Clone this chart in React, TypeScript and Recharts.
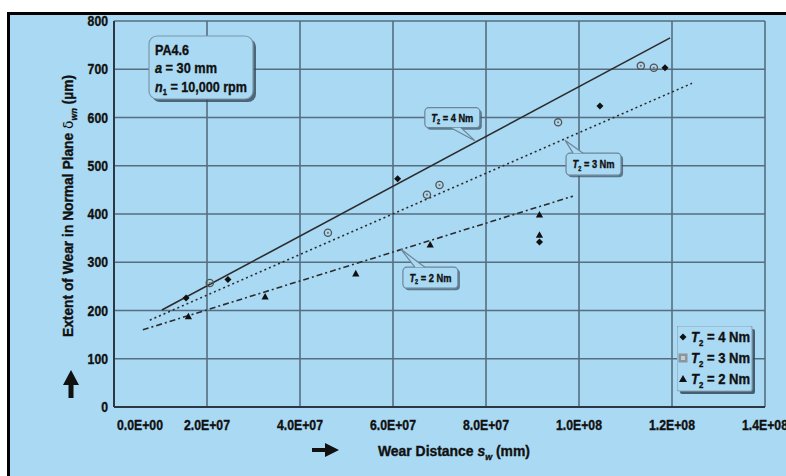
import React from 'react';
import { ComposedChart, Line, Scatter, XAxis, YAxis, CartesianGrid, Legend, ReferenceDot } from 'recharts';

// wear distance (mm) and wear depth (µm)
const t4Distance = [1.55e7, 2.45e7, 6.1e7, 1.045e8, 1.185e8, 9.15e7];
const t4Wear = [226, 264, 473, 624, 703, 342];
const t3Distance = [2.06e7, 4.6e7, 6.73e7, 7.0e7, 9.55e7, 1.133e8, 1.161e8];
const t3Wear = [257, 361, 440, 460, 590, 707, 703];
const t2Distance = [1.6e7, 3.25e7, 5.2e7, 6.8e7, 9.15e7, 9.15e7];
const t2Wear = [187, 228, 276, 336, 398, 356];

// trend lines (start / end)
const t4FitDistance = [1.03e7, 1.196e8];
const t4FitWear = [201, 765];
const t3FitDistance = [7.7e6, 1.243e8];
const t3FitWear = [180, 671];
const t2FitDistance = [6.2e6, 9.87e7];
const t2FitWear = [160, 437];

const xTicks = [0, 2e7, 4e7, 6e7, 8e7, 1e8, 1.2e8, 1.4e8];
const yTicks = [0, 100, 200, 300, 400, 500, 600, 700, 800];

const torqueLabels = ['4', '3', '2'];
// callout anchors sitting on the trend lines
const calloutDistance = [7.76e7, 9.7e7, 6.17e7];
const calloutWear = [552, 553, 327];

const BLUE = '#A9D9F3';
const INK = '#111';
const FONT = "'Liberation Sans', Arial, sans-serif";

const toRows = (xs: number[], ys: number[]) => xs.map((d, i) => ({ distance: d, wear: ys[i] }));

const fmtSci = (v: number) => {
  if (v === 0) return '0.0E+00';
  const exp = Math.floor(Math.log10(v) + 1e-9);
  const mant = v / Math.pow(10, exp);
  return `${mant.toFixed(1)}E+${String(exp).padStart(2, '0')}`;
};

// condensed heavy text: squeezed to the measured length
const NText = ({ x, y, len, size, anchor = 'start', children, dy }: any) => (
  <text x={x} y={y} dy={dy} textAnchor={anchor} textLength={len} lengthAdjust="spacingAndGlyphs"
    fontFamily={FONT} fontWeight="bold" fontSize={size} fill={INK} stroke={INK} strokeWidth={0.35}>
    {children}
  </text>
);

const XTick = (props: any) => {
  const { x, y, payload } = props;
  const first = payload.value === 0;
  return (
    <NText x={first ? x + 3 : x} y={y + 15} len={46} size={14} anchor={first ? 'start' : 'middle'}>
      {fmtSci(payload.value)}
    </NText>
  );
};

const YTick = (props: any) => {
  const { x, y, payload } = props;
  const s = String(payload.value);
  return (
    <NText x={x + 2} y={y} dy="0.36em" len={s.length * 6.8} size={14} anchor="end">{s}</NText>
  );
};

const Diamond = (p: any) => {
  const { cx, cy } = p;
  return <path d={`M${cx},${cy - 3.5}L${cx + 3.5},${cy}L${cx},${cy + 3.5}L${cx - 3.5},${cy}Z`} fill={INK} />;
};
const Ring = (p: any) => {
  const { cx, cy } = p;
  return (
    <g>
      <circle cx={cx} cy={cy} r={3.6} fill="none" stroke="#555" strokeWidth={1.3} />
      <circle cx={cx} cy={cy} r={1.1} fill="#777" />
    </g>
  );
};
const Triangle = (p: any) => {
  const { cx, cy } = p;
  return <path d={`M${cx},${cy - 4}L${cx + 3.6},${cy + 2.6}L${cx - 3.6},${cy + 2.6}Z`} fill={INK} />;
};

const TLabel = ({ n, size }: { n: string; size: number }) => (
  <>
    <tspan fontStyle="italic">T</tspan>
    <tspan fontSize={size * 0.6} dy={size * 0.25}>2</tspan>
    <tspan dy={-size * 0.25}>{` = ${n} Nm`}</tspan>
  </>
);

// box offset relative to the anchor, pointer base on the box edge
const calloutBoxes = [
  { dx: -50, dy: -33, w: 55, h: 20, b1: -24, b2: -14, edge: 'bottom' },
  { dx: 1, dy: 13, w: 55, h: 22, b1: 8, b2: 18, edge: 'top' },
  { dx: 2, dy: 18, w: 55, h: 21, b1: 14, b2: 24, edge: 'top' },
];

const makeCallout = (i: number) => (p: any) => {
  const { cx, cy } = p;
  if (cx == null || cy == null) return null;
  const b = calloutBoxes[i];
  const bx = cx + b.dx;
  const by = cy + b.dy;
  const ey = b.edge === 'bottom' ? by + b.h : by;
  return (
    <g>
      <rect x={bx + 2} y={by + 2} width={b.w} height={b.h} rx={4} fill="#3b4f5e" opacity={0.7} />
      <rect x={bx} y={by} width={b.w} height={b.h} rx={4} fill={BLUE} stroke="#6d8596" strokeWidth={1.2} />
      <polygon points={`${cx + b.b1},${ey} ${cx},${cy} ${cx + b.b2},${ey}`} fill={BLUE} />
      <polyline points={`${cx + b.b1},${ey} ${cx},${cy} ${cx + b.b2},${ey}`} fill="none" stroke="#6d8596" strokeWidth={1.2} />
      <NText x={bx + b.w / 2} y={by + b.h / 2} dy="0.35em" len={42} size={11} anchor="middle">
        <TLabel n={torqueLabels[i]} size={11} />
      </NText>
    </g>
  );
};

const LegendMarker = ({ i, cy }: { i: number; cy: number }) => {
  const cx = 6;
  if (i === 0) return <path d={`M${cx},${cy - 3.5}L${cx + 3.5},${cy}L${cx},${cy + 3.5}L${cx - 3.5},${cy}Z`} fill={INK} />;
  if (i === 1) return (
    <g>
      <rect x={cx - 4.5} y={cy - 4.5} width={9} height={9} fill="#8a959c" />
      <rect x={cx - 2} y={cy - 2} width={4} height={4} fill="#c3ccd2" />
    </g>
  );
  return <path d={`M${cx},${cy - 4}L${cx + 4},${cy + 3}L${cx - 4},${cy + 3}Z`} fill={INK} />;
};

const LegendBox = () => (
  <div style={{ position: 'relative', width: 80, height: 70 }}>
    <svg width={80} height={70} style={{ display: 'block' }}>
      <rect x={3} y={3} width={75} height={65} rx={2} fill="#34495a" opacity={0.85} />
      <rect x={0} y={0} width={75} height={65} rx={2} fill={BLUE} stroke="#8da4b4" strokeWidth={1.2} />
      {torqueLabels.map((n, i) => (
        <g key={n}>
          <LegendMarker i={i} cy={11 + i * 21} />
          <NText x={14} y={16 + i * 21} len={59} size={14}>
            <TLabel n={n} size={14} />
          </NText>
        </g>
      ))}
    </svg>
  </div>
);

export default function App() {
  return (
    <div style={{ position: 'absolute', left: 0, top: 0, width: 786, height: 476, background: '#fff', overflow: 'hidden' }}>
      <div style={{
        position: 'absolute', left: 7, top: 12, width: 779, height: 464, background: BLUE,
        borderLeft: '3px solid #000', borderTop: '3px solid #000', boxSizing: 'border-box',
      }} />
      <div style={{ position: 'absolute', left: 0, top: 0 }}>
        <ComposedChart width={786} height={476} margin={{ top: 21, right: 21, left: 64, bottom: 39 }}>
          <CartesianGrid stroke="#566e7f" strokeWidth={1.6} />
          <XAxis type="number" dataKey="distance" domain={[0, 1.4e8]} ticks={xTicks} height={30}
            axisLine={{ stroke: '#2b3843', strokeWidth: 2 }} tickLine={false} tick={<XTick />} interval={0} />
          <YAxis type="number" dataKey="wear" domain={[0, 800]} ticks={yTicks} width={50}
            axisLine={{ stroke: '#2b3843', strokeWidth: 2 }} tickLine={false} tick={<YTick />} interval={0} />
          <Line data={toRows(t4FitDistance, t4FitWear)} dataKey="wear" stroke="#2c2c2c" strokeWidth={1.6}
            dot={false} activeDot={false} isAnimationActive={false} legendType="none" />
          <Line data={toRows(t3FitDistance, t3FitWear)} dataKey="wear" stroke="#2c2c2c" strokeWidth={1.6}
            strokeDasharray="2 3" dot={false} activeDot={false} isAnimationActive={false} legendType="none" />
          <Line data={toRows(t2FitDistance, t2FitWear)} dataKey="wear" stroke="#2c2c2c" strokeWidth={1.6}
            strokeDasharray="6 3 2 3" dot={false} activeDot={false} isAnimationActive={false} legendType="none" />
          <Scatter data={toRows(t4Distance, t4Wear)} dataKey="wear" shape={Diamond} isAnimationActive={false} />
          <Scatter data={toRows(t3Distance, t3Wear)} dataKey="wear" shape={Ring} isAnimationActive={false} />
          <Scatter data={toRows(t2Distance, t2Wear)} dataKey="wear" shape={Triangle} isAnimationActive={false} />
          {torqueLabels.map((n, i) => (
            <ReferenceDot key={n} x={calloutDistance[i]} y={calloutWear[i]} shape={makeCallout(i)} />
          ))}
          <Legend layout="horizontal" verticalAlign="middle" align="center" content={<LegendBox />}
            wrapperStyle={{ left: 677, top: 326, width: 80, height: 70 }} />
        </ComposedChart>
      </div>
      <svg width={786} height={476} style={{ position: 'absolute', left: 0, top: 0, pointerEvents: 'none' }}>
        <g>
          <rect x={152} y={39} width={104} height={63} rx={8} fill="#34495a" opacity={0.8} />
          <rect x={149} y={36} width={104} height={63} rx={8} fill={BLUE} stroke="#7f97a8" strokeWidth={1.2} />
          <NText x={155} y={55} len={34} size={15}>PA4.6</NText>
          <NText x={155} y={73} len={62} size={15}><tspan fontStyle="italic">a</tspan> = 30 mm</NText>
          <NText x={155} y={92} len={92} size={15}>
            <tspan fontStyle="italic">n</tspan><tspan fontSize={9} dy={3}>1</tspan><tspan dy={-3}> = 10,000 rpm</tspan>
          </NText>
        </g>
        <g transform="translate(68 206) rotate(-90)">
          <NText x={0} y={0} dy="0.35em" len={262} size={14} anchor="middle">
            Extent of Wear in Normal Plane <tspan fontWeight="normal" strokeWidth={0} fontFamily="'DejaVu Sans', sans-serif">δ</tspan>
            <tspan fontStyle="italic" fontSize={9} dy={4}>wn</tspan>
            <tspan dy={-4}> (µm)</tspan>
          </NText>
        </g>
        <path d="M63,385 L71,370 L79,385 L73.5,385 L73.5,398 L68.5,398 L68.5,385 Z" fill={INK} />
        <path d="M312,448 L325,448 L325,443 L339,450 L325,457 L325,452 L312,452 Z" fill={INK} />
        <NText x={378} y={456} len={152} size={14}>
          Wear Distance <tspan fontStyle="italic">s</tspan><tspan fontStyle="italic" fontSize={9} dy={4}>w</tspan><tspan dy={-4}> (mm)</tspan>
        </NText>
      </svg>
    </div>
  );
}
